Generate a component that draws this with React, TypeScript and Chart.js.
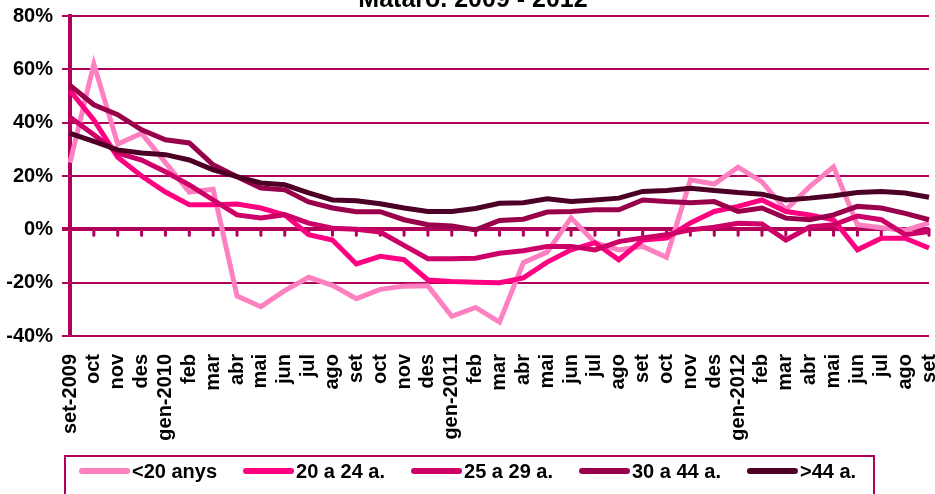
import React, { useEffect, useRef } from 'react';
import { Chart, registerables } from 'chart.js';

Chart.register(...registerables);

const TITLE = 'Mataró. 2009 - 2012';

const categories = [
  'set-2009', 'oct', 'nov', 'des', 'gen-2010', 'feb', 'mar', 'abr', 'mai', 'jun', 'jul', 'ago',
  'set', 'oct', 'nov', 'des', 'gen-2011', 'feb', 'mar', 'abr', 'mai', 'jun', 'jul', 'ago',
  'set', 'oct', 'nov', 'des', 'gen-2012', 'feb', 'mar', 'abr', 'mai', 'jun', 'jul', 'ago', 'set',
];

const seriesLabels = ['<20 anys', '20 a 24 a.', '25 a 29 a.', '30 a 44 a.', '>44 a.'];

const under20 = [
  25, 62, 32, 36, 25, 14, 15, -25, -29, -23, -18, -21, -26, -22.5, -21.3, -21.2, -32.6, -29.3, -34.8,
  -12.5, -8.5, 4.3, -5, -7.7, -6.4, -10.5, 18.6, 17, 23.3, 17.8, 7.3, 16, 23.4, 1.7, 0.6, -0.4, 2.4,
];
const age20to24 = [
  52, 41, 27, 20, 14, 9.2, 9.2, 9.5, 8, 5.4, -2, -4, -13, -10.1, -11.4, -19, -19.6, -19.8, -20,
  -18.2, -12.3, -7.7, -5, -11.4, -4, -3.3, 2.4, 6.7, 8.6, 11, 6.7, 5.4, 3.6, -7.7, -3.3, -3.3, -7,
];
const age25to29 = [
  42, 35.5, 28.6, 26, 21.6, 16.7, 11, 5.4, 4.3, 5.5, 2.3, 0.4, 0, -1, -6, -11, -11, -10.8, -9,
  -8, -6.4, -6.4, -7.7, -4.6, -3.2, -2, -0.2, 0.8, 2.3, 2, -4, 0.9, 1.7, 5, 3.6, -2, -0.8,
];
const age30to44 = [
  54, 46.7, 43, 37.3, 33.6, 32.4, 24.2, 19.7, 15.5, 14.8, 10.3, 8, 6.6, 6.6, 3.6, 1.7, 1.3, -0.2, 3.3,
  3.8, 6.5, 6.7, 7.3, 7.3, 11, 10.4, 10, 10.4, 6.7, 8, 4.2, 3.6, 5.4, 8.6, 8, 6, 3.6,
];
const over44 = [
  36, 33, 29.8, 28.6, 28, 26, 22.3, 19.8, 17.4, 16.7, 13.7, 11, 10.7, 9.6, 8, 6.7, 6.7, 7.8, 9.8,
  10, 11.5, 10.4, 11, 11.7, 14.2, 14.6, 15.4, 14.6, 13.8, 13.2, 11, 11.7, 12.6, 13.8, 14.2, 13.6, 12,
];

const seriesValues = [under20, age20to24, age25to29, age30to44, over44];
const seriesColors = ['#FF80C0', '#FF0080', '#CC0066', '#99004C', '#4D0026'];

const Y_MIN = -40;
const Y_MAX = 80;
const Y_STEP = 20;

const AXIS = '#B0005A';
const FONT = '"Liberation Sans", Arial, Helvetica, sans-serif';
const FONT_SIZE = 20;

const decorPlugin = {
  id: 'decor',
  beforeDatasetsDraw(chart: any) {
    const { ctx, scales } = chart;
    const x = scales.x;
    const y = scales.y;
    const y0 = y.getPixelForValue(0);
    ctx.save();
    ctx.strokeStyle = AXIS;
    ctx.lineWidth = 3;
    ctx.lineCap = 'round';
    for (let i = 1; i < categories.length; i++) {
      const px = x.getPixelForValue(i);
      ctx.beginPath();
      ctx.moveTo(px, y0);
      ctx.lineTo(px, y0 + 6);
      ctx.stroke();
    }
    ctx.restore();
  },
  afterDraw(chart: any) {
    const { ctx } = chart;
    ctx.save();
    // title (partly cut off at the top of the picture)
    ctx.fillStyle = '#000';
    ctx.font = `bold 25px ${FONT}`;
    ctx.textAlign = 'center';
    ctx.textBaseline = 'alphabetic';
    ctx.fillText(TITLE, 473, 7);

    // legend box
    ctx.strokeStyle = AXIS;
    ctx.lineWidth = 2;
    ctx.strokeRect(65, 456, 809, 60);

    ctx.font = `bold ${FONT_SIZE}px ${FONT}`;
    ctx.textAlign = 'left';
    ctx.textBaseline = 'middle';
    let sx = 79;
    const ly = 471;
    for (let i = 0; i < seriesLabels.length; i++) {
      ctx.strokeStyle = seriesColors[i];
      ctx.lineWidth = 6;
      ctx.lineCap = 'round';
      ctx.beginPath();
      ctx.moveTo(sx + 3, ly);
      ctx.lineTo(sx + 48, ly);
      ctx.stroke();
      ctx.fillStyle = '#000';
      const tx = sx + 53;
      ctx.fillText(seriesLabels[i], tx, ly + 1);
      sx = tx + ctx.measureText(seriesLabels[i]).width + 26;
    }
    ctx.restore();
  },
};

export default function App() {
  const canvasRef = useRef<HTMLCanvasElement | null>(null);

  useEffect(() => {
    document.body.style.margin = '0';
    const canvas = canvasRef.current;
    if (!canvas) return;
    const chart = new Chart(canvas, {
      type: 'line',
      data: {
        labels: categories,
        datasets: seriesValues.map((vals, i) => ({
          label: seriesLabels[i],
          data: vals,
          borderColor: seriesColors[i],
          backgroundColor: seriesColors[i],
          borderWidth: 5,
          pointRadius: 0,
          pointHoverRadius: 0,
          tension: 0,
          fill: false,
          borderJoinStyle: 'miter' as const,
          order: seriesLabels.length - i,
        })),
      },
      options: {
        animation: false,
        responsive: false,
        devicePixelRatio: 1,
        events: [],
        layout: { padding: { top: 16, right: 6, left: 0, bottom: 0 } },
        plugins: {
          legend: { display: false },
          title: { display: false },
          tooltip: { enabled: false },
        },
        scales: {
          x: {
            type: 'category',
            offset: false,
            grid: { display: false, drawTicks: false },
            border: { display: false },
            ticks: {
              autoSkip: false,
              maxRotation: 90,
              minRotation: 90,
              padding: 18,
              color: '#000',
              font: { family: FONT, size: FONT_SIZE, weight: 'bold' },
            },
            afterFit(scale: any) {
              scale.height = 158;
              scale.paddingLeft = 0;
              scale.paddingRight = 0;
            },
          },
          y: {
            min: Y_MIN,
            max: Y_MAX,
            ticks: {
              stepSize: Y_STEP,
              padding: 9,
              color: '#000',
              font: { family: FONT, size: FONT_SIZE, weight: 'bold' },
              callback: (v: any) => `${v}%`,
            },
            grid: {
              color: AXIS,
              lineWidth: (c: any) => (c.tick && c.tick.value === 0 ? 4 : 2),
              tickLength: 8,
              drawTicks: true,
            },
            border: { display: true, color: AXIS, width: 4 },
            afterFit(scale: any) {
              scale.width = 70;
              scale.paddingTop = 0;
            },
          },
        },
      },
      plugins: [decorPlugin],
    });
    return () => chart.destroy();
  }, []);

  return (
    <div style={{ position: 'fixed', left: 0, top: 0, width: 935, height: 494 }}>
      <canvas ref={canvasRef} width={935} height={494} style={{ display: 'block' }} />
    </div>
  );
}
